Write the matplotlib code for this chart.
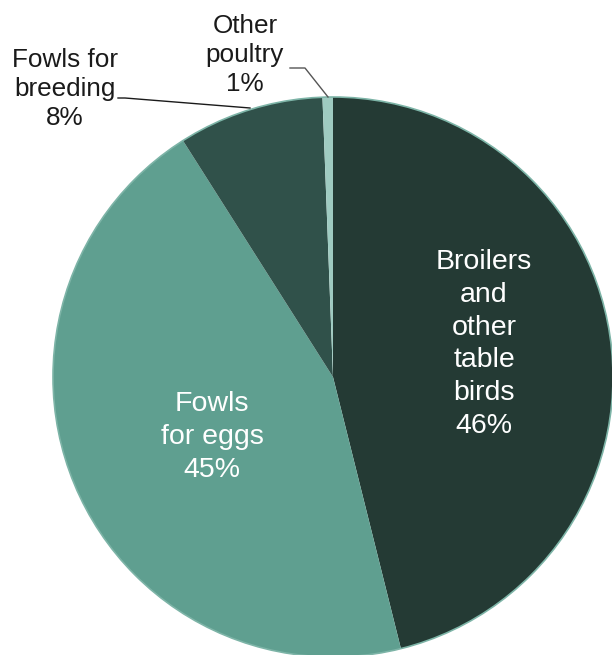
import matplotlib
matplotlib.use("Agg")
import matplotlib.pyplot as plt
from matplotlib.patches import Circle

categories = ["Broilers\nand\nother\ntable\nbirds", "Fowls\nfor eggs", "Fowls for\nbreeding", "Other\npoultry"]
values = [46.1, 44.9, 8.4, 0.6]
pct_labels = ["46%", "45%", "8%", "1%"]
colors = ["#243a34", "#5f9f90", "#30514a", "#9fcbc1"]

plt.rcParams['font.family'] = ['Liberation Sans', 'DejaVu Sans']

fig = plt.figure(figsize=(6.12, 6.55), dpi=100)
ax = fig.add_axes([0, 0, 1, 1])

cx, cy, R = 333, 655 - 377, 280
wedges, _ = ax.pie(values, colors=colors, startangle=90, counterclock=False,
                   center=(cx, cy), radius=R, frame=True,
                   wedgeprops=dict(edgecolor='none', linewidth=0))
ax.set_xlim(0, 612)
ax.set_ylim(0, 655)
ax.set_aspect('equal')
ax.axis('off')
ax.add_patch(Circle((cx, cy), R, fill=False, edgecolor='#7db4a7', linewidth=1.2, zorder=5))

fs_in = 20.5
ls_in = 1.34
fs_out = 18.8
ls_out = 1.24
ax.text(484, 655 - 344, categories[0] + "\n" + pct_labels[0], color='white', fontsize=fs_in,
        ha='center', va='center', linespacing=ls_in, zorder=6)
ax.text(212, 655 - 437, categories[1] + "\n" + pct_labels[1], color='white', fontsize=fs_in,
        ha='center', va='center', linespacing=ls_in, zorder=6)
ax.text(65, 655 - 89, categories[2] + "\n" + pct_labels[2], color='#1a1a1a', fontsize=fs_out,
        ha='center', va='center', linespacing=ls_out, zorder=6)
ax.text(245, 655 - 55, categories[3] + "\n" + pct_labels[3], color='#1a1a1a', fontsize=fs_out,
        ha='center', va='center', linespacing=ls_out, zorder=6)

# leader lines
ax.plot([118, 125, 250], [655 - 98, 655 - 98, 655 - 108], color='#1a1a1a', lw=1.0, zorder=6)
ax.plot([290, 305, 328], [655 - 68, 655 - 68, 655 - 97], color='#555555', lw=1.0, zorder=6)

fig.savefig("out.png", dpi=100, facecolor='white')
